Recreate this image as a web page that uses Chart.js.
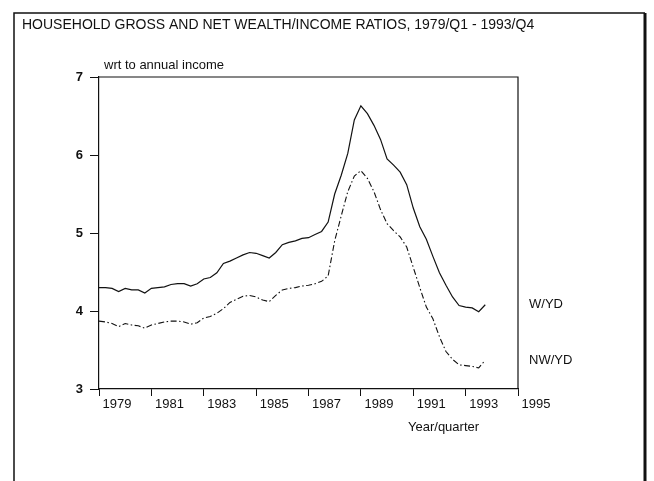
<!DOCTYPE html>
<html>
<head>
<meta charset="utf-8">
<script src="https://cdn.jsdelivr.net/npm/chart.js@4/dist/chart.umd.min.js"></script>
<style>
  body { margin: 0; background: #fff; }
  canvas { display: block; }
</style>
</head>
<body>
<canvas id="wealth-chart" width="654" height="481"></canvas>
<script>
// quarterly observations, 1979/Q1 - 1993/Q4
var startYear = 1979;
var endYear = 1993;

// W/YD : gross wealth to annual income
var grossRatio = [
  4.30, 4.30, 4.29, 4.25, 4.29, 4.27, 4.27, 4.23,
  4.29, 4.30, 4.31, 4.34, 4.35, 4.35, 4.32, 4.35,
  4.41, 4.43, 4.49, 4.61, 4.64, 4.68, 4.72, 4.75,
  4.74, 4.71, 4.68, 4.75, 4.85, 4.88, 4.90, 4.93,
  4.94, 4.98, 5.02, 5.14, 5.50, 5.74, 6.02, 6.45,
  6.63, 6.53, 6.38, 6.20, 5.95, 5.87, 5.78, 5.62,
  5.32, 5.08, 4.92, 4.70, 4.49, 4.33, 4.18, 4.07,
  4.05, 4.04, 3.99, 4.08
];

// NW/YD : net wealth to annual income
var netRatio = [
  3.87, 3.86, 3.84, 3.80, 3.84, 3.82, 3.81, 3.78,
  3.82, 3.84, 3.86, 3.87, 3.87, 3.86, 3.83, 3.85,
  3.91, 3.93, 3.97, 4.03, 4.11, 4.15, 4.19, 4.20,
  4.18, 4.14, 4.12, 4.20, 4.27, 4.29, 4.30, 4.32,
  4.33, 4.35, 4.38, 4.45, 4.90, 5.22, 5.53, 5.73,
  5.80, 5.70, 5.53, 5.30, 5.12, 5.03, 4.95, 4.82,
  4.56, 4.30, 4.05, 3.90, 3.67, 3.48, 3.38, 3.31,
  3.30, 3.29, 3.27, 3.37
];

var yearTicks = [1979, 1981, 1983, 1985, 1987, 1989, 1991, 1993, 1995];
var ratioTicks = [3, 4, 5, 6, 7];

var titleText = "HOUSEHOLD GROSS AND NET WEALTH/INCOME RATIOS, 1979/Q1 - 1993/Q4";
var unitText = "wrt to annual income";
var xAxisText = "Year/quarter";
var seriesNames = ["W/YD", "NW/YD"];

var FONT = "'Liberation Sans', Arial, Helvetica, sans-serif";
var INK = "#111";

// quarter positions as decimal years
var quarters = [];
for (let y = startYear; y <= endYear; y++) {
  for (let q = 0; q < 4; q++) {
    quarters.push(y + q / 4);
  }
}

function toPoints(values) {
  return values.map((v, i) => ({ x: quarters[i], y: v }));
}

// frame, box and free text labels
var decorations = {
  id: "decorations",
  afterDraw: function (chart) {
    const ctx = chart.ctx;
    const area = chart.chartArea;
    const xs = chart.scales.x;
    const ys = chart.scales.y;
    ctx.save();

    // outer frame
    ctx.strokeStyle = INK;
    ctx.lineWidth = 1.5;
    ctx.beginPath();
    ctx.moveTo(14, 481);
    ctx.lineTo(14, 13);
    ctx.lineTo(645, 13);
    ctx.stroke();
    ctx.lineWidth = 3;
    ctx.beginPath();
    ctx.moveTo(645, 13);
    ctx.lineTo(645, 481);
    ctx.stroke();

    // plot box top and right
    ctx.lineWidth = 1.2;
    ctx.beginPath();
    ctx.moveTo(area.left, area.top);
    ctx.lineTo(area.right, area.top);
    ctx.lineTo(area.right, area.bottom);
    ctx.stroke();

    ctx.fillStyle = INK;
    ctx.textBaseline = "middle";
    ctx.textAlign = "left";
    ctx.font = "14px " + FONT;
    ctx.fillText(titleText, 22, 25);

    ctx.font = "13px " + FONT;
    ctx.fillText(unitText, 104, 65);
    ctx.fillText(xAxisText, 408, 427);

    // series names next to the last observation
    const lastIdx = quarters.length - 1;
    ctx.fillText(seriesNames[0], area.right + 11, ys.getPixelForValue(grossRatio[lastIdx]));
    ctx.fillText(seriesNames[1], area.right + 11, ys.getPixelForValue(netRatio[lastIdx]));

    ctx.restore();
  },
};

var ctx = document.getElementById("wealth-chart").getContext("2d");
var wealthChart = new Chart(ctx, {
  type: "line",
  data: {
    datasets: [
      {
        label: seriesNames[0],
        data: toPoints(grossRatio),
        borderColor: INK,
        borderWidth: 1.2,
        pointRadius: 0,
        tension: 0,
      },
      {
        label: seriesNames[1],
        data: toPoints(netRatio),
        borderColor: INK,
        borderWidth: 1.1,
        borderDash: [6, 2.5, 1.5, 2.5],
        pointRadius: 0,
        tension: 0,
      },
    ],
  },
  options: {
    responsive: false,
    animation: false,
    layout: {
      padding: { left: 59, top: 77, right: 136, bottom: 67 },
    },
    plugins: {
      legend: { display: false },
      tooltip: { enabled: false },
    },
    scales: {
      x: {
        type: "linear",
        min: 1979,
        max: 1995,
        afterFit: function (scale) {
          scale.height = 25;
        },
        afterBuildTicks: function (scale) {
          scale.ticks = yearTicks.map((v) => ({ value: v }));
        },
        grid: {
          drawOnChartArea: false,
          drawTicks: true,
          tickLength: 7,
          color: INK,
          lineWidth: 1,
        },
        border: { display: true, color: INK, width: 1.2 },
        ticks: {
          align: "start",
          padding: 1,
          maxRotation: 0,
          autoSkip: false,
          color: INK,
          font: { family: FONT, size: 13 },
          callback: function (value) {
            return " " + value;
          },
        },
      },
      y: {
        min: 3,
        max: 7,
        afterFit: function (scale) {
          scale.width = 40;
        },
        afterBuildTicks: function (scale) {
          scale.ticks = ratioTicks.map((v) => ({ value: v }));
        },
        grid: {
          drawOnChartArea: false,
          drawTicks: true,
          tickLength: 9,
          color: INK,
          lineWidth: 1,
        },
        border: { display: true, color: INK, width: 1.2 },
        ticks: {
          padding: 7,
          color: INK,
          font: { family: FONT, size: 13, weight: "bold" },
          callback: function (value) {
            return String(value);
          },
        },
      },
    },
  },
  plugins: [decorations],
});
</script>
</body>
</html>
